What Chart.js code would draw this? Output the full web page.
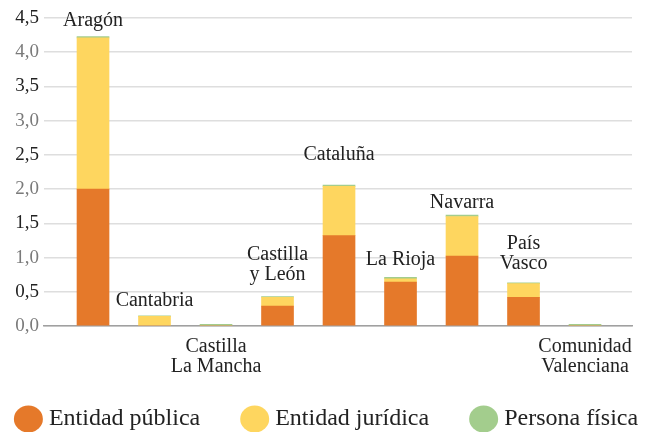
<!DOCTYPE html>
<html>
<head>
<meta charset="utf-8">
<script src="https://cdn.jsdelivr.net/npm/chart.js@4"></script>
<style>
  body { margin: 0; background: #fff; }
</style>
</head>
<body>
<canvas id="chart" width="648" height="432"></canvas>
<script>
// regions, in order along the axis
const regions = ["Aragón", "Cantabria", "Castilla\nLa Mancha", "Castilla\ny León", "Cataluña", "La Rioja", "Navarra", "País\nVasco", "Comunidad\nValenciana"];
const entidadPublica  = [2.00, 0.00, 0.00,  0.29, 1.32, 0.64, 1.02, 0.42, 0.00];
const entidadJuridica = [2.21, 0.14, 0.00,  0.13, 0.72, 0.05, 0.58, 0.20, 0.00];
const personaFisica   = [0.02, 0.01, 0.025, 0.01, 0.02, 0.02, 0.02, 0.01, 0.025];
const yTicks = [0, 0.5, 1, 1.5, 2, 2.5, 3, 3.5, 4, 4.5];

// label placement: px between bar top and last baseline, null = under the axis
const labelLift = [10, 10, null, 17, 25, 12, 7, 14, null];

const serif = "'Liberation Serif', 'DejaVu Serif', serif";
Chart.defaults.font.family = serif;

function toPoints(arr) {
  return arr.map((v, i) => ({ x: i, y: v }));
}

const regionLabels = {
  id: "regionLabels",
  afterDatasetsDraw(chart) {
    const { ctx, scales: { x, y } } = chart;
    ctx.save();
    ctx.font = "20px " + serif;
    ctx.fillStyle = "#222";
    ctx.textAlign = "center";
    ctx.textBaseline = "alphabetic";
    regions.forEach((name, i) => {
      const lines = name.split("\n");
      const cx = x.getPixelForValue(i);
      let by;
      if (labelLift[i] === null) {
        by = y.getPixelForValue(0) + 26;
      } else {
        const total = entidadPublica[i] + entidadJuridica[i] + personaFisica[i];
        by = y.getPixelForValue(total) - labelLift[i] - (lines.length - 1) * 20;
      }
      lines.forEach(l => { ctx.fillText(l, cx, by); by += 20; });
    });
    ctx.restore();
  }
};

// legend drawn by hand so it stays on one row
const roundLegend = {
  id: "roundLegend",
  afterDraw(chart) {
    const ctx = chart.ctx;
    const sets = chart.data.datasets;
    ctx.save();
    ctx.font = "24px " + serif;
    const gap = 40, dotW = 35;
    const widths = sets.map(d => dotW + ctx.measureText(d.label).width);
    const total = widths.reduce((a, b) => a + b, 0) + gap * (sets.length - 1);
    let x = 326 - total / 2;
    const cy = 419;
    sets.forEach((d, i) => {
      ctx.fillStyle = d.backgroundColor;
      ctx.beginPath();
      ctx.ellipse(x + 14.5, cy, 14.5, 13.5, 0, 0, Math.PI * 2);
      ctx.fill();
      ctx.fillStyle = "#222";
      ctx.textBaseline = "middle";
      ctx.fillText(d.label, x + dotW, cy);
      x += widths[i] + gap;
    });
    ctx.restore();
  }
};

new Chart(document.getElementById("chart"), {
  type: "bar",
  data: {
    datasets: [
      { label: "Entidad pública", data: toPoints(entidadPublica), backgroundColor: "#E5792A" },
      { label: "Entidad jurídica", data: toPoints(entidadJuridica), backgroundColor: "#FED65F" },
      { label: "Persona física", data: toPoints(personaFisica), backgroundColor: "#A3CD8D" },
    ]
  },
  options: {
    responsive: false,
    animation: false,
    barThickness: 32,
    layout: { padding: { top: 18, right: 16, bottom: 0, left: 0 } },
    scales: {
      x: {
        type: "linear",
        stacked: true,
        offset: false,
        min: -0.797,
        max: 8.764,
        ticks: { display: false },
        grid: { display: false, drawTicks: false },
        border: { display: true, color: "#a0a0a0", width: 1.5 },
        afterFit: s => { s.height = 106; }
      },
      y: {
        stacked: true,
        min: 0,
        max: 4.5,
        afterBuildTicks: s => { s.ticks = yTicks.map(v => ({ value: v })); },
        afterFit: s => { s.width = 44; },
        ticks: {
          padding: 5,
          font: { family: serif, size: 19 },
          color: c => (c.tick.value % 1 === 0 ? "#7a7a7a" : "#222"),
          callback: v => v.toFixed(1).replace(".", ",")
        },
        grid: { color: "#dedede", lineWidth: 1.5, drawTicks: false },
        border: { display: false }
      }
    },
    plugins: {
      tooltip: { enabled: false },
      legend: { display: false }
    }
  },
  plugins: [regionLabels, roundLegend]
});
</script>
</body>
</html>
